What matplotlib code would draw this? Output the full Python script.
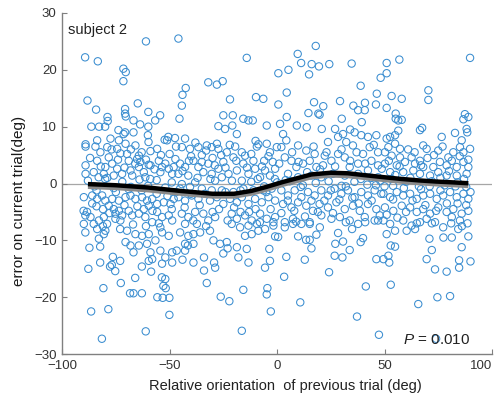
import matplotlib
matplotlib.use("Agg")
import matplotlib.pyplot as plt
import numpy as np

plt.rcParams['font.family'] = ['Liberation Sans', 'DejaVu Sans']
plt.rcParams['mathtext.fontset'] = 'custom'
plt.rcParams['mathtext.it'] = 'Liberation Sans:italic'
plt.rcParams['mathtext.rm'] = 'Liberation Sans'

# trials: (relative orientation of previous trial, error on current trial)
upper_outliers = [
    (-89.3, 22.2), (-83.4, 21.5), (-61, 25), (-45.9, 25.5), (-71.5, 20.2), (-70.4, 19.6), (-71.5, 18),
    (-88.2, 14.6), (-84.2, 13), (-64.8, 14.1), (-44, 15.6), (-42.5, 16.8), (-44.3, 13.7), (-45.4, 11.4),
    (-32, 17.8), (-28, 17.4), (-25.3, 18), (-21.9, 14.8), (-14.1, 22.1), (-70.7, 13.1), (-70.7, 12.3),
    (-70.4, 11.8), (-86.4, 10), (-82.8, 10), (-80, 10), (-78.9, 11.7), (-78.8, 11), (-66.8, 11.1),
    (-63.7, 10.4), (-59.9, 12.6), (-59.9, 10), (-60.1, 8.5), (-56.7, 11.1), (-54.4, 12), (-70.7, 9),
    (-73.8, 9.4), (-66.8, 9), (-27.3, 10.1), (-25, 12), (-20.6, 12), (-20.8, 10.2), (-24.2, 9.6),
    (-15.7, 11.4), (-13.3, 11.1), (-18.7, 8.7), (-50.6, 8.2), (-47.5, 8.0), (-71.4, 8.7),
    (18, 24.2), (9.6, 22.8), (11.2, 21.2), (16.1, 21), (19.5, 20.6), (24.3, 21), (14.9, 19.2),
    (0.6, 19.4), (5.3, 20), (34.7, 21.1), (51, 21.2), (56.9, 21.8), (51, 19.4), (48.2, 18.6),
    (89.8, 22.1), (38.9, 17.2), (4.5, 16), (-9.8, 15.2), (-6.4, 14.9), (0.6, 13.9), (17.2, 14.3),
    (21.5, 13.6), (14.6, 12.4), (19.2, 12.3), (19.8, 12.1), (29.3, 14.5), (35.5, 13.7), (40.9, 14.2),
    (37.7, 12.9), (40.8, 12.9), (46.4, 15.8), (46, 13.9), (53.3, 15.4), (58, 14.9), (51, 13.3),
    (55.2, 12.3), (55.2, 11.4), (58, 11.2), (56.4, 11.1), (70.4, 16.4), (70.4, 14.7), (4.5, 11.7),
    (-4.8, 10.2), (1.4, 10.5), (9.2, 10.2), (13.8, 9.9), (20.8, 9.6), (30.1, 11.4), (27, 9.6),
    (34, 9.5), (30.7, 8.7), (39.4, 10.8), (-11.3, 11.1), (66.5, 9.4), (67.5, 9.8), (76.6, 8.2),
    (82.8, 8.9), (86.7, 11.3), (89, 11.7), (87.4, 12.2), (88.2, 9.6), (88.5, 9), (36.1, 9),
    (39.2, 8.5), (42.3, 8.2), (46.2, 8.5), (2.8, 8.7), (56.4, 9.3), (54.9, 8.5), (52.6, 8.2),
]

band_upper = [
    (-59.8, 7.3), (-52.3, 7.7), (-51.2, 7.6), (-83.7, 7.6), (-89.1, 6.9), (-89.1, 6.5),
    (-84.5, 6.5), (-79, 6.4), (-77.5, 7.9), (-73.6, 7.6), (-74.4, 6.1), (-72.9, 5.3), (-70.5, 7),
    (-69.8, 5.2), (-69, 4), (-65.9, 6.7), (-64.3, 4.9), (-65.1, 4.3), (-63.6, 3.8), (-58.9, 5.7),
    (-59.7, 3.3), (-55, 4), (-53.5, 2.9), (-54.3, 2), (-52, 3.5), (-50.4, 2.6), (-48.8, 1.7),
    (-55.8, 6.1), (-47.3, 4.3), (-48.1, 2.9), (-89.1, 3.2), (-89.1, 1.7), (-85.3, 2), (-83, 1.1),
    (-80.6, 1.7), (-79.9, 2.9), (-83.7, 4), (-82.2, 5.5), (-78.3, 4.6), (-76.7, 3.5), (-74.4, 2.6),
    (-72.1, 1.7), (-76, 1.4), (-68.2, 2.3), (-67.4, 1.4), (-62, 2), (-61.3, 1.1), (-58.9, 3.2),
    (-64.3, 2.9), (-42.8, 7.9), (-44.3, 6.4), (-40.5, 6.1), (-36.6, 6.4), (-32.7, 6.7), (-30.4, 6.4),
    (-28, 7), (-27.3, 6.1), (-19.5, 6.5), (-16.4, 5.5), (-14.9, 4.9), (-9.4, 6.5), (-8.7, 6.9),
    (-4.8, 7), (-3.3, 5.5), (-0.1, 6.4), (-15.7, 3.5), (-20.3, 4.6), (-23.4, 5.5), (-45.1, 3.5),
    (-42.8, 2.9), (-45.9, 1.7), (-41.3, 1.4), (-38.9, 4), (-36.6, 2.9), (-34.3, 2), (-32, 3.5),
    (-30.4, 1.7), (-27.3, 2.6), (-25.7, 1.1), (-22.6, 1.7), (-18.7, 2.3), (-16.4, 0.5), (-13.3, 1.7),
    (-10.2, 2.6), (-7.9, 1.1), (-5.6, 2.3), (-3.3, 1.4), (-0.9, 2.6), (-28.8, 0.5), (-38.1, 0.2),
    (-40, 4.8), (-35, 5), (-30, 4.5), (-25, 3.8), (-22, 6.8), (-12, 5.2), (-6, 4), (-2, 3.8),
    (-38, 7.2), (-10, 7.5),
    (4.3, 7.6), (23.7, 7.3), (28.4, 8.2), (32.2, 7.3), (35.3, 6.7), (43.1, 6.4), (47, 5.5),
    (9.8, 6.7), (13.6, 5.8), (17.5, 5.2), (22.2, 4.9), (2, 6.4), (3.6, 4.6), (6.7, 4), (9, 2.9),
    (12.1, 3.5), (15.2, 4), (18.3, 2.9), (21.4, 3.2), (25.3, 4), (28.4, 5.2), (31.5, 4.6),
    (33.8, 2.9), (37.7, 3.5), (40, 5.2), (43.9, 4), (47, 3.2), (5.1, 1.7), (9.8, 1.1), (16, 1.4),
    (20.6, 1.1), (26, 1.7), (31.5, 1.4), (37.7, 1.7), (42.3, 2.3), (47, 1.1),
    (68, 6.7), (69.6, 6.1), (75, 5.8), (79.7, 4.6), (85.1, 6.4), (86.7, 5.5), (85.9, 7.6),
    (89.8, 6.1), (51.8, 6.4), (54.9, 7), (50.2, 5.5), (57.2, 6.1), (57.2, 4.6), (53.3, 4.9),
    (55.7, 3.2), (59.5, 3.8), (62.6, 4.6), (64.2, 3.5), (66.5, 4), (68, 2.9), (72.7, 2.9),
    (75.8, 3.8), (78.9, 3.2), (81.3, 4), (83.6, 2.9), (86.7, 3.8), (89, 2.9), (50.2, 3.5),
    (48.7, 2.6), (52.6, 2), (58.7, 2), (63.4, 2.3), (66.5, 1.7), (71.2, 1.4), (75, 2), (78.9, 1.4),
    (83.6, 1.4), (88.2, 1.7), (53.3, 0.8), (51, 7.9),
]

band_zero = [
    (-88, 0.5), (-85, -0.5), (-80, 0.8), (-76, -0.8), (-72, 0.3), (-68, -0.6), (-64, 0.7),
    (-60, -0.4), (-56, 0.6), (-52, -0.7), (-49, 0.2), (-44.3, -0.1), (-12, 0.3), (-6, -0.5),
    (0, 0.2), (6, 0.4), (12, -0.3), (18, 0.1), (24, 0.4), (30, -0.4), (36, 0.3), (42, -0.2),
    (48, 0.5), (54, -0.4), (60, 0.3), (66, -0.5), (72, 0.4), (78, -0.3), (84, 0.2), (88, -0.6),
]

band_lower = [
    (-89.9, -2.4), (-86, -2.1), (-83.7, -2.7), (-81.4, -2.1), (-79.9, -3), (-78.3, -3.9),
    (-76.7, -2.7), (-73.6, -3), (-70.5, -2.4), (-68.2, -2.1), (-65.9, -2.7), (-62.8, -2.4),
    (-60.5, -3), (-58.1, -2.7), (-55.8, -3.6), (-52.7, -3.3), (-49.6, -3.6), (-48.1, -2.7),
    (-90, -4.8), (-88.4, -5), (-89.2, -5.6), (-86.8, -5.9), (-89.9, -7.1), (-85.3, -7.1),
    (-82.9, -6.5), (-80.6, -5.9), (-79.1, -7.1), (-76, -4.5), (-75.2, -5.3), (-73.6, -4.8),
    (-75.2, -6.2), (-72.9, -6.5), (-72.1, -5.6), (-69, -4.8), (-67.4, -5.6), (-64.3, -5.3),
    (-62, -4.5), (-59.7, -3.9), (-61.3, -5.9), (-58.1, -6.8), (-55.8, -5), (-53.5, -5.9),
    (-50.4, -5.6), (-48.8, -6.5), (-84, -4), (-81, -4.5),
    (-45.9, -2.4), (-42.8, -3), (-39.7, -2.1), (-36.6, -2.7), (-33.5, -1.8), (-31.2, -3),
    (-28, -2.4), (-25, -3.6), (-21.9, -2.7), (-18.7, -3.3), (-16.4, -2.4), (-13.3, -3.6),
    (-10.2, -2.7), (-7.1, -3.3), (-4, -2.4), (-0.9, -3), (-44.3, -5.3), (-41.3, -5.9),
    (-38.1, -5), (-34.3, -5.3), (-32, -6.5), (-28.8, -5.9), (-21.1, -5.3), (-18.7, -6.2),
    (-14.9, -5.6), (-11.8, -6.5), (-7.9, -5.3), (-4.8, -6.2), (-1.7, -6.8), (-21.1, -7.1),
    (-17.2, -7.7), (-13.3, -7.4), (-9.4, -7.1), (-1.7, -7.4), (-37.3, -7.1), (-42.8, -7.1),
    (-0.9, -5.9), (-45.1, -0.9), (-40.5, -0.6), (-35, -0.9), (-30.4, -1.2), (-25.7, -1.2),
    (-20.3, -1.5), (-15.7, -0.9), (-11, -1.2), (-6.4, -1.2), (-2.5, -0.9),
    (2, -1.2), (5.1, -2.1), (8.2, -1.2), (11.3, -2.4), (14.4, -1.5), (17.5, -2.1), (20.6, -1.2),
    (23.7, -2.1), (26.8, -0.9), (29.9, -1.8), (33, -1.2), (36.1, -2.4), (39.2, -1.5), (42.3, -2.1),
    (45.4, -1.2), (48.5, -1.8), (2.8, -3.6), (6.7, -4.2), (9.8, -3.3), (13.6, -3.9), (16.7, -4.8),
    (19.8, -3.6), (23.7, -4.2), (27.6, -3.3), (31.5, -4.5), (35.3, -3.9), (38.5, -4.8), (42.3, -3.6),
    (46.2, -4.5), (3.6, -6.8), (7.4, -6.2), (11.3, -7.1), (15.2, -6.8), (20.6, -5.6), (25.3, -6.2),
    (29.2, -5.9), (33.8, -6.5), (37.7, -7.1), (40.8, -5.9), (45.4, -6.5), (47.8, -5.6),
    (3.6, -7.7), (15.2, -7.1), (7.4, -7.1), (8.9, -6.7), (47, -6.5), (19.9, -7.7),
    (49.5, -1.8), (52.6, -2.4), (55.7, -1.5), (58.7, -2.1), (61.9, -1.8), (65, -2.7), (68, -2.1),
    (71.2, -1.8), (74.3, -2.7), (77.3, -2.1), (80.5, -1.5), (83.6, -2.4), (86.7, -1.8), (89, -2.7),
    (50.2, -4.2), (54.1, -4.8), (58, -3.9), (61.9, -4.2), (65, -5), (68, -4.5), (71.2, -5.3),
    (75, -4.2), (78.9, -5), (82, -4.5), (85.9, -5.3), (89, -4.8), (49.5, -6.5), (52.6, -7.1),
    (58.7, -6.5), (62.6, -7.4), (66.5, -6.8), (69.6, -6.2), (73.5, -6.8), (77.3, -7.7),
    (81.3, -5.9), (85.1, -6.5), (88.6, -7),
]

# more circles in the crowded band around zero
band_dense = [
    (-87, 4.5), (-86, -3.5), (-84, -1.2), (-82, 3), (-81, -7.5), (-79, 1), (-78, -5.2), (-77, 6),
    (-75, -1.5), (-74, 4.2), (-73, -8), (-71, 2.8), (-71, -3.8), (-69, -1), (-68, 6), (-67, -7.2),
    (-66, 3.5), (-65, -4), (-63, 5.5), (-63, -1.2), (-61, -7.5), (-61, 4.2), (-59, 0.8), (-58, -4.8),
    (-57, 2.5), (-56, -1.8), (-55, -7), (-54, 5), (-51, -2.2), (-50, 5.2), (-49, -4.5), (-47, -1.5),
    (-47, 6.5), (-44, 2.2), (-43, -4.2), (-41, 4), (-40, -1.8), (-39, -6.5), (-37, 1), (-36, -3.8),
    (-35, 3.8), (-33, -7.5), (-33, 5.8), (-31, 0.8), (-30, -5), (-29, 3.2), (-27, -4.5), (-26, 5),
    (-24, -1.5), (-24, 2.8), (-23, -6.5), (-21, 0.5), (-20, -4.2), (-19, 4), (-17, -1.2), (-17, -5),
    (-14, 2.8), (-13, -5), (-11, 4), (-10, -4.5), (-9, 0.8), (-8, -6.8), (-7, 3), (-5, -1.5),
    (-4, 4.8), (-3, -4.5), (-1, 0.8), (1, 3.5), (2, -5.2), (4, 0.6), (5, -3), (7, 5.5), (8, -4.8),
    (10, 3.8), (11, -0.6), (13, -5.8), (14, 2), (16, -3), (17, 6.5), (19, -5), (20, 2.5), (22, -3),
    (23, 5.5), (25, -1.2), (26, -5.2), (27, 3), (29, -2.8), (30, 6), (32, -0.5), (32, -6.8),
    (34, 4), (35, -2.5), (37, 5.5), (38, -3.5), (39, 0.8), (41, -6.8), (41, 3.5), (44, -3), (44, 1),
    (46, -0.3), (45, 6.8), (50, -0.5), (51, -5.5), (52, 4), (54, -2.8), (55, 1.5), (56, -6), (57, 3),
    (59, -0.8), (60, -5), (61, 6), (62, 1), (63, -3), (64, 5.5), (65, -7), (67, -1), (67, 3.2),
    (69, -3.8), (70, 4.5), (71, -0.5), (72, -7), (73, 5), (74, -4.8), (76, 1), (76, -1.2), (77, 6.5),
    (79, -3.5), (80, 2.2), (81, -7), (82, 5.5), (83, -0.5), (84, -3.5), (85, 4.8), (86, -7.5),
    (87, 0.8), (88, -3.8), (89, 4.2), (90, -1.5),
]

lower_outliers = [
    (-89.2, -8.6), (-83.7, -8), (-80.6, -8.9), (-82.9, -9.7), (-79.9, -8.3), (-69.8, -8.3),
    (-65.9, -8.9), (-62.8, -9.2), (-59.7, -8.9), (-56.6, -10), (-54.3, -7.7), (-53.5, -8.6),
    (-50.4, -9.2), (-70.5, -10.3), (-68.2, -10.9), (-64.3, -10.9), (-60.5, -10.6), (-58.9, -12.1),
    (-58.1, -13.3), (-59.7, -13.6), (-54.3, -11.8), (-52, -13), (-48.8, -12.1), (-48.8, -13.9),
    (-53.5, -14.1), (-87.3, -11.3), (-82.3, -11.1), (-66.8, -12.1),
    (-86.5, -22.5), (-78.5, -22.1), (-81.5, -27.3), (-61.1, -26), (-50.1, -23.1), (-80.8, -18.4),
    (-68.4, -19.3), (-66.8, -19.3), (-62.9, -19.3), (-55.7, -20), (-53.2, -20.1), (-50.1, -20.1),
    (-52.9, -18), (-51.8, -18.4), (-53.6, -16.5), (-52, -16.8), (-87.8, -15), (-82.3, -13.9),
    (-77.7, -14.6), (-76.9, -14.3), (-75.3, -15.4), (-76.4, -12.9), (-73, -13.6), (-72.7, -17.5),
    (-66, -16.6), (-62.9, -14.6), (-58.6, -15.5), (-44, -13.4), (-38.9, -13.9), (-34, -15.3),
    (-34, -13), (-32.7, -17.5), (-28.8, -14.8), (-29.3, -13.9), (-26.2, -19.9), (-22.2, -20.7),
    (-15.7, -18.7), (-16.4, -25.9), (-42.8, -11.8), (-41.5, -10.9), (-38.9, -10.6), (-23, -11.4),
    (-18, -13), (-13.3, -13.9), (-4.5, -18.4), (-4.8, -19.5), (-2.9, -22.5), (-5.6, -14.8),
    (-3.3, -13.6), (-3.6, -11.5), (-0.9, -9.3), (-25, -12.3), (-14.1, -11.5), (-31.2, -8.3),
    (-18.7, -11.2), (-11.8, -8.9), (-14.9, -9.2), (-8.7, -8.3), (-45.1, -8.6), (-41.3, -9.2),
    (-42.8, -10.6), (-38.9, -8.9), (-35.8, -8.6), (-29.6, -10), (-26.5, -10.6), (-23.4, -10.3),
    (-5.6, -8), (-46.7, -11.8),
    (10.8, -20.9), (37.2, -23.4), (47.4, -26.6), (24.2, -15.6), (41.3, -18.1), (3.3, -16.4),
    (4.3, -12.9), (12.9, -13.4), (26.8, -12.7), (30.4, -13), (33.8, -11.7), (27.1, -10.6),
    (30.7, -10.2), (28.4, -8.7), (16, -11.4), (15.2, -9.9), (9.8, -9.3), (13.5, -9.9), (18.3, -9),
    (46.2, -13.3), (38.9, -10.3), (40, -9.6), (34.9, -8), (0.5, -9.4),
    (52.9, -17.8), (65.7, -21.2), (74.6, -20), (80.5, -19.8), (73.5, -15.1), (78.9, -15.5),
    (90, -13.7), (69.6, -13.3), (52.2, -13.9), (52.9, -10.9), (74, -27.3), (84.7, -14.8),
    (84.7, -13.5), (72, -11.7), (70.9, -9.7), (85.9, -11.2), (89, -9.3), (77.4, -9.5), (81.3, -9.5),
    (84.3, -8), (54.9, -11.1), (51.8, -12.7), (49.5, -13.3), (51, -8.9), (60.3, -8.3), (64.2, -8),
    (54.9, -8.3),
]

# smoothed running estimate (black curve)
curve_x = [-88, -75, -60, -45, -30, -20, -12, -5, 3, 10, 16, 25, 33, 40, 50, 58, 66, 74, 82, 89]
curve_y = [-0.1, -0.3, -0.7, -1.3, -1.8, -1.8, -1.3, -0.6, 0.3, 1.0, 1.6, 1.9, 1.8, 1.5, 1.1, 0.8,
           0.55, 0.35, 0.2, 0.05]

pts = np.array(upper_outliers + band_upper + band_zero + band_lower + band_dense + lower_outliers)

fig = plt.figure(figsize=(5.01, 3.93), dpi=100)
ax = fig.add_axes([0.124, 0.099, 0.858, 0.868])

ax.axhline(0, color='#a6a6a6', lw=0.9, zorder=1)
ax.scatter(pts[:, 0], pts[:, 1], s=28, facecolors='none', edgecolors='#3a8dd0',
           linewidths=0.75, zorder=2)
ax.plot(curve_x, np.array(curve_y) - 0.5, color='#8a8a8a', lw=3, zorder=3, solid_capstyle='butt')
ax.plot(curve_x, curve_y, color='black', lw=3.2, zorder=4, solid_capstyle='butt')

ax.set_xlim(-100, 100)
ax.set_ylim(-30, 30)
ax.set_xticks([-100, -50, 0, 50, 100])
ax.set_yticks([-30, -20, -10, 0, 10, 20, 30])

for side in ['top', 'right']:
    ax.spines[side].set_visible(False)
for side in ['left', 'bottom']:
    ax.spines[side].set_color('#808080')
    ax.spines[side].set_linewidth(1.0)
ax.tick_params(direction='in', length=3.5, color='#808080', labelsize=9.5,
               labelcolor='#333333', pad=4)
# keep the last x tick label inside the picture
ax.get_xticklabels()[-1].set_horizontalalignment('right')

ax.set_ylabel('error on current trial(deg)', fontsize=11, color='#1a1a1a')
ax.yaxis.set_label_coords(-0.085, 0.45)
ax.set_xlabel('Relative orientation  of previous trial (deg)', fontsize=10.5, color='#222222', va='top')
ax.xaxis.set_label_coords(0.52, -0.072)

ax.text(0.014, 0.95, 'subject 2', transform=ax.transAxes, fontsize=10.5, color='#222222',
        ha='left', va='center')
ax.text(0.95, 0.041, '$P$ = 0.010', transform=ax.transAxes, fontsize=11, color='#222222',
        ha='right', va='center')

fig.savefig('out.png', dpi=100)
